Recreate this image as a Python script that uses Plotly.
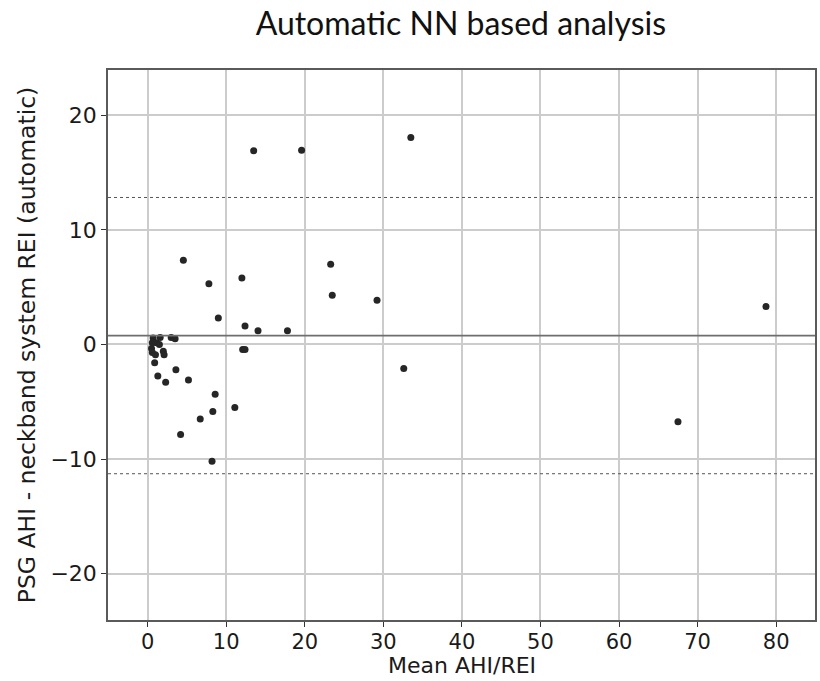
import plotly.graph_objects as go

# Bland-Altman data: mean of methods (x) vs difference (y)
mean_ahi = [0.7, 1.6, 0.6, 1.15, 1.5, 0.5, 0.6, 1.0, 2.0, 2.1, 0.9, 1.3, 2.3, 3.0, 3.5, 3.6, 5.2,
            13.5, 19.6, 33.5, 4.55, 23.3, 7.8, 12.0, 23.5, 29.2, 78.7, 9.0, 12.4, 14.05, 17.8,
            12.1, 12.4, 32.6, 67.5, 8.6, 11.1, 8.3, 6.7, 4.2, 8.2]
diff_ahi = [0.55, 0.6, 0.15, 0.15, 0.0, -0.35, -0.7, -0.9, -0.6, -0.9, -1.6, -2.75, -3.3, 0.6, 0.5, -2.2, -3.1,
            16.9, 16.95, 18.05, 7.35, 7.0, 5.3, 5.8, 4.3, 3.85, 3.3, 2.3, 1.6, 1.2, 1.2,
            -0.45, -0.45, -2.1, -6.75, -4.35, -5.5, -5.85, -6.5, -7.85, -10.2]

mean_diff = 0.77
loa_upper = 12.82
loa_lower = -11.28

x_ticks = [0, 10, 20, 30, 40, 50, 60, 70, 80]
y_ticks = [-20, -10, 0, 10, 20]
y_tick_text = ["\u221220", "\u221210", "0", "10", "20"]

fig = go.Figure()
fig.add_trace(go.Scatter(
    x=mean_ahi, y=diff_ahi, mode="markers",
    marker=dict(size=7, color="#262626"),
    showlegend=False, hoverinfo="x+y"))

fig.add_hline(y=mean_diff, line=dict(color="#6e6e6e", width=1.6))
fig.add_hline(y=loa_upper, line=dict(color="#555555", width=1, dash="dot"))
fig.add_hline(y=loa_lower, line=dict(color="#555555", width=1, dash="dot"))

axis_common = dict(
    showgrid=True, gridcolor="#cccccc", gridwidth=1.5,
    showline=True, mirror=True, linecolor="#5a5a5a", linewidth=1.5,
    ticks="outside", ticklen=5, tickwidth=1, tickcolor="#333333",
    zeroline=False,
    tickfont=dict(family="DejaVu Sans", size=22, color="#1a1a1a"),
)

fig.update_xaxes(range=[-5.04, 84.94], tickvals=x_ticks, ticklabelstandoff=-3,
                 tickfont=dict(family="DejaVu Sans", size=21, color="#1a1a1a"),
                 **{k: v for k, v in axis_common.items() if k != "tickfont"})
fig.update_yaxes(range=[-24.04, 23.94], tickvals=y_ticks, ticktext=y_tick_text,
                 title=dict(text="PSG AHI - neckband system REI (automatic)",
                            font=dict(family="DejaVu Sans", size=23.5, color="#1a1a1a"), standoff=8),
                 **axis_common)

fig.add_annotation(text="Mean AHI/REI", xref="paper", yref="paper", x=0.5, y=-0.083,
                   xanchor="center", yanchor="middle", showarrow=False,
                   font=dict(family="DejaVu Sans", size=22, color="#1a1a1a"))

fig.update_layout(
    width=820, height=681,
    margin=dict(l=108, r=3, t=70, b=61),
    paper_bgcolor="white", plot_bgcolor="white",
    title=dict(text="Automatic NN based analysis", x=0.562, xanchor="center", y=0.965, yanchor="middle",
               font=dict(family="Lato", size=32, color="#111111")),
)

fig.write_html("out.html")
